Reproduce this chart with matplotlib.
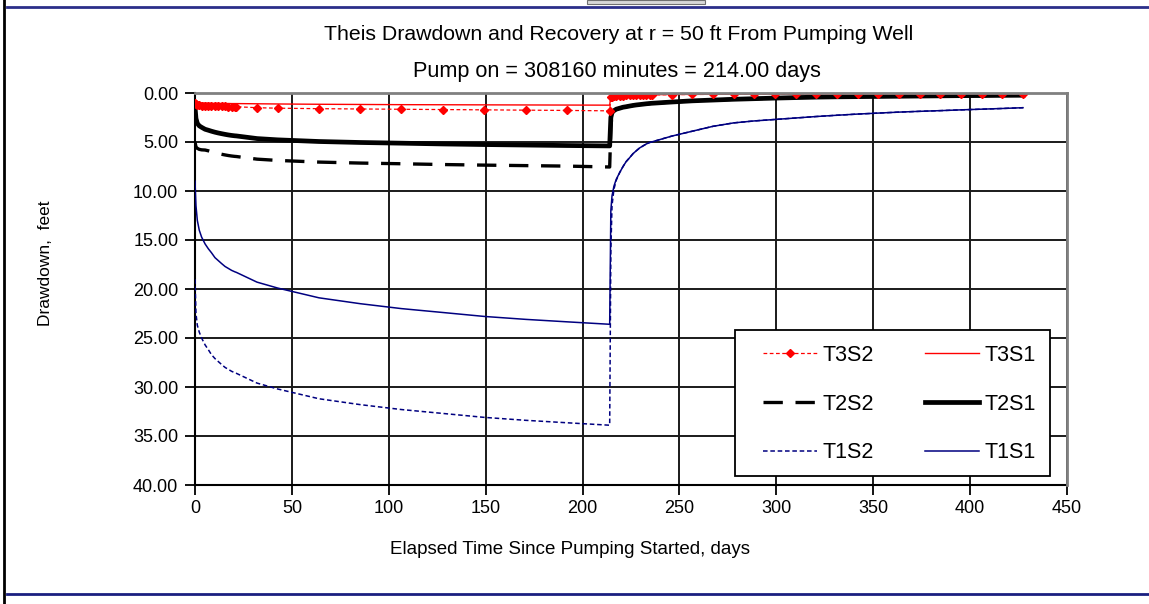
import matplotlib
matplotlib.use("Agg")
import matplotlib.pyplot as plt
from matplotlib.lines import Line2D
from matplotlib.patches import Rectangle

plt.rcParams['font.family'] = ['Liberation Sans', 'DejaVu Sans']

# ---- data ----
t_pump = [0.0, 0.5, 1.2, 2.2, 3.4, 5.2, 6.9, 8.5, 10.3, 12.0, 13.7, 15.5, 17.2, 18.9,
          20.6, 21.3, 32.0, 42.6, 64.0, 85.3, 106.5, 128.0, 149.3, 170.7, 192.0, 214.0]
t_rec = [214.6, 215.2, 216.2, 217.4, 219.2, 220.9, 222.5, 224.3, 226.0, 227.7, 229.5,
         231.2, 232.9, 234.6, 235.6, 246.0, 256.6, 267.3, 278.0, 288.6, 299.3, 310.0,
         320.6, 331.3, 342.0, 352.6, 363.3, 374.0, 384.6, 395.3, 406.0, 416.6, 427.3]

t1s1_pump = [9.0, 11.5, 13.0, 14.0, 14.7, 15.4, 15.9, 16.3, 16.8, 17.1, 17.4, 17.7, 17.9,
             18.1, 18.25, 18.3, 19.3, 19.9, 20.9, 21.5, 22.0, 22.4, 22.8, 23.1, 23.35, 23.6]
t1s1_rec = [12.0, 10.5, 9.5, 8.8, 8.1, 7.5, 7.0, 6.6, 6.2, 5.9, 5.6, 5.4, 5.2, 5.05, 5.0,
            4.4, 3.9, 3.4, 3.05, 2.85, 2.7, 2.55, 2.4, 2.27, 2.15, 2.05, 1.95, 1.87, 1.8,
            1.72, 1.65, 1.58, 1.5]

t1s2_pump = [19.0, 22.5, 23.7, 24.4, 25.0, 25.7, 26.2, 26.7, 27.1, 27.4, 27.7, 28.0, 28.2,
             28.4, 28.55, 28.6, 29.6, 30.2, 31.2, 31.8, 32.3, 32.7, 33.1, 33.4, 33.65, 33.9]
t1s2_rec = [16.0, 11.5, 9.8, 8.9, 8.1, 7.5, 7.0, 6.6, 6.2, 5.9, 5.6, 5.4, 5.2, 5.05, 5.0,
            4.4, 3.9, 3.4, 3.05, 2.85, 2.7, 2.55, 2.4, 2.27, 2.15, 2.05, 1.95, 1.87, 1.8,
            1.72, 1.65, 1.58, 1.5]

t2s1_pump = [1.4, 2.6, 3.1, 3.35, 3.5, 3.7, 3.8, 3.9, 4.0, 4.08, 4.15, 4.22, 4.28, 4.33,
             4.37, 4.38, 4.65, 4.78, 4.95, 5.05, 5.12, 5.2, 5.26, 5.31, 5.36, 5.4]
t2s1_rec = [2.5, 2.0, 1.8, 1.65, 1.55, 1.45, 1.4, 1.33, 1.27, 1.22, 1.18, 1.14, 1.1, 1.07,
            1.05, 0.92, 0.8, 0.72, 0.64, 0.58, 0.52, 0.47, 0.42, 0.39, 0.37, 0.35, 0.33,
            0.31, 0.29, 0.27, 0.26, 0.24, 0.23]

t2s2_pump = [5.0, 5.5, 5.65, 5.75, 5.8, 5.82, 5.9, 6.0, 6.1, 6.18, 6.25, 6.32, 6.38, 6.43,
             6.47, 6.48, 6.75, 6.88, 7.05, 7.15, 7.22, 7.3, 7.36, 7.41, 7.46, 7.55]
t2s2_rec = [3.5, 2.2, 1.85, 1.67, 1.55, 1.45, 1.4, 1.33, 1.27, 1.22, 1.18, 1.14, 1.1, 1.07,
            1.05, 0.92, 0.8, 0.72, 0.64, 0.58, 0.52, 0.47, 0.42, 0.39, 0.37, 0.35, 0.33,
            0.31, 0.29, 0.27, 0.26, 0.24, 0.23]

t3s1_pump = [0.9, 0.95, 0.98, 1.0, 1.02, 1.03, 1.04, 1.05, 1.05, 1.06, 1.06, 1.07, 1.07,
             1.08, 1.08, 1.08, 1.1, 1.12, 1.15, 1.17, 1.19, 1.2, 1.21, 1.22, 1.23, 1.24]
t3s1_rec = [0.3, 0.27, 0.25, 0.23, 0.22, 0.21, 0.2, 0.2, 0.19, 0.19, 0.18, 0.18, 0.17, 0.17,
            0.17, 0.15, 0.14, 0.13, 0.12, 0.11, 0.1, 0.1, 0.09, 0.09, 0.08, 0.08, 0.07,
            0.07, 0.07, 0.06, 0.06, 0.06, 0.06]

t3s2_pump = [1.0, 1.15, 1.2, 1.25, 1.28, 1.3, 1.32, 1.33, 1.34, 1.35, 1.36, 1.37, 1.38,
             1.39, 1.4, 1.4, 1.5, 1.55, 1.6, 1.63, 1.66, 1.69, 1.72, 1.75, 1.78, 1.82]
t3s2_rec = [0.45, 0.38, 0.33, 0.3, 0.28, 0.26, 0.25, 0.24, 0.23, 0.22, 0.21, 0.2, 0.2, 0.19,
            0.19, 0.17, 0.15, 0.14, 0.13, 0.12, 0.11, 0.11, 0.1, 0.1, 0.09, 0.09, 0.08,
            0.08, 0.08, 0.07, 0.07, 0.07, 0.07]

x_ticks = [0, 50, 100, 150, 200, 250, 300, 350, 400, 450]
y_ticks = [0, 5, 10, 15, 20, 25, 30, 35, 40]

title1 = "Theis Drawdown and Recovery at r = 50 ft From Pumping Well"
title2 = "Pump on = 308160 minutes = 214.00 days"
xlabel = "Elapsed Time Since Pumping Started, days"
ylabel = "Drawdown,  feet"

W, H = 1149, 604
fig = plt.figure(figsize=(W / 100, H / 100), dpi=100)
ax = fig.add_axes([195 / W, 1 - 485 / H, (1067 - 195) / W, (485 - 93) / H])

t_all = t_pump + t_rec
navy = "#000080"
red = "#FF0000"

l_t1s2, = ax.plot(t_all, t1s2_pump + t1s2_rec, color=navy, lw=1.1, ls=(0, (3.0, 1.8)), label="T1S2", zorder=3)
l_t1s1, = ax.plot(t_all, t1s1_pump + t1s1_rec, color=navy, lw=1.1, label="T1S1", zorder=3)
l_t2s2, = ax.plot(t_all, t2s2_pump + t2s2_rec, color="black", lw=2.4, ls=(0, (5.8, 3.8)), label="T2S2", zorder=4)
l_t2s1, = ax.plot(t_all, t2s1_pump + t2s1_rec, color="black", lw=3.4, label="T2S1", zorder=4)
l_t3s1, = ax.plot(t_all, t3s1_pump + t3s1_rec, color=red, lw=1.0, label="T3S1", zorder=5)
l_t3s2, = ax.plot(t_all, t3s2_pump + t3s2_rec, color=red, lw=0.9, ls=(0, (3.0, 2.0)),
                  marker="D", ms=4.5, mec=red, mfc=red, label="T3S2", zorder=6)

ax.set_xlim(0, 450)
ax.set_ylim(40, 0)
ax.set_xticks(x_ticks)
ax.set_xticklabels([str(v) for v in x_ticks])
ax.set_yticks(y_ticks)
ax.set_yticklabels([f"{v:.2f}" for v in y_ticks])
ax.tick_params(axis="both", labelsize=13, length=7, width=1.3, color="black", pad=4)
ax.tick_params(axis="y", pad=5)
ax.grid(True, color="#1a1a1a", lw=1.4)
ax.set_axisbelow(True)
for side in ["top", "right"]:
    ax.spines[side].set_color("#808080")
    ax.spines[side].set_linewidth(2.0)
    ax.spines[side].set_zorder(10)
for side in ["left", "bottom"]:
    ax.spines[side].set_color("black")
    ax.spines[side].set_linewidth(1.5)

# legend box (drawn separately so its padding can be matched)
fig.add_artist(Rectangle((735 / W, 1 - 476 / H), (1050 - 735) / W, (476 - 330) / H,
                         facecolor="white", edgecolor="black", lw=1.3,
                         transform=fig.transFigure, zorder=3))
handles = [l_t3s2, l_t2s2, l_t1s2, l_t3s1, l_t2s1, l_t1s1]
leg = fig.legend(handles=handles, labels=[h.get_label() for h in handles], ncol=2,
                 loc="upper left", bbox_to_anchor=(763 / W, 1 - 345 / H),
                 fontsize=15.5, frameon=False, handlelength=2.5, handletextpad=0.25,
                 labelspacing=1.28, borderpad=0, columnspacing=2.4, borderaxespad=0)
leg.set_zorder(5)

fig.text(619 / W, 1 - 35 / H, title1, ha="center", va="center", fontsize=15.3)
fig.text(617 / W, 1 - 72 / H, title2, ha="center", va="center", fontsize=15.6)
fig.text(570 / W, 1 - 549 / H, xlabel, ha="center", va="center", fontsize=13.5)
fig.text(45 / W, 1 - 263 / H, ylabel, ha="center", va="center", rotation=90, fontsize=12.5)

# outer frame decorations
fig.add_artist(Line2D([4 / W, 4 / W], [0, 1], color="black", lw=2.0, transform=fig.transFigure))
fig.add_artist(Line2D([7 / W, 1], [1 - 7 / H, 1 - 7 / H], color="#2b2f8a", lw=2.0, transform=fig.transFigure))
fig.add_artist(Line2D([7 / W, 1], [1 - 593.5 / H, 1 - 593.5 / H], color="#1a1f80", lw=2.0, transform=fig.transFigure))
fig.add_artist(Rectangle((587 / W, 1 - 4 / H), (705 - 587) / W, 4 / H, facecolor="#d8d8d8",
                         edgecolor="#707070", lw=0.8, transform=fig.transFigure))

fig.savefig("out.png", dpi=100)
